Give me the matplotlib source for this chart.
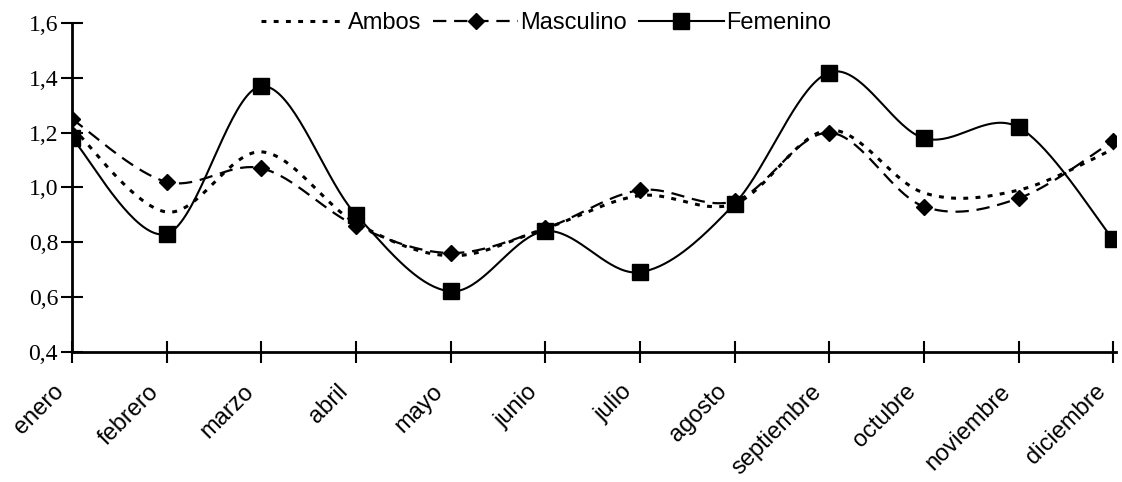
import numpy as np
import matplotlib
matplotlib.use("Agg")
import matplotlib.pyplot as plt
from matplotlib.ticker import FuncFormatter, MultipleLocator
from matplotlib.lines import Line2D
from matplotlib.transforms import ScaledTranslation

# datos mensuales
meses = ["enero", "febrero", "marzo", "abril", "mayo", "junio", "julio",
         "agosto", "septiembre", "octubre", "noviembre", "diciembre"]
ambos = [1.22, 0.91, 1.13, 0.87, 0.75, 0.85, 0.97, 0.94, 1.21, 0.98, 0.99, 1.14]
masculino = [1.25, 1.02, 1.07, 0.86, 0.76, 0.85, 0.99, 0.95, 1.20, 0.93, 0.96, 1.17]
femenino = [1.18, 0.83, 1.37, 0.90, 0.62, 0.84, 0.69, 0.94, 1.42, 1.18, 1.22, 0.81]


def suavizar(x, y, n=40):
    # curva tipo Catmull-Rom (como las "líneas suavizadas" de Excel)
    pts = np.column_stack([x, y]).astype(float)
    p = np.vstack([pts[0], pts, pts[-1]])
    t = np.linspace(0, 1, n)[:, None]
    tramos = []
    for i in range(1, len(p) - 2):
        p0, p1, p2, p3 = p[i - 1], p[i], p[i + 1], p[i + 2]
        c1 = p1 + (p2 - p0) / 6
        c2 = p2 - (p3 - p1) / 6
        seg = ((1 - t) ** 3 * p1 + 3 * (1 - t) ** 2 * t * c1
               + 3 * (1 - t) * t ** 2 * c2 + t ** 3 * p2)
        tramos.append(seg if i == 1 else seg[1:])
    s = np.vstack(tramos)
    return s[:, 0], s[:, 1]


x = np.arange(len(meses))

estilo_amb = dict(color="black", lw=2.2, dashes=(1.6, 2.4))
estilo_mas = dict(color="black", lw=1.6, dashes=(6, 3.5))
estilo_fem = dict(color="black", lw=1.5)

fig = plt.figure(figsize=(11.22, 4.82), dpi=100)
ax = fig.add_axes([72 / 1122, 1 - 351.5 / 482, (1116 - 72) / 1122, (351.5 - 23.3) / 482])

sx, sy = suavizar(x, ambos)
ax.plot(sx, sy, **estilo_amb)

sx, sy = suavizar(x, masculino)
ax.plot(sx, sy, **estilo_mas)
ax.plot(x, masculino, ls="none", marker="D", ms=8, color="black")

sx, sy = suavizar(x, femenino)
ax.plot(sx, sy, **estilo_fem)
ax.plot(x, femenino, ls="none", marker="s", ms=11, color="black")

# leyenda superior sin marco
h_amb = Line2D([], [], **estilo_amb)
h_mas = Line2D([], [], marker="D", ms=8, **estilo_mas)
h_fem = Line2D([], [], marker="s", ms=11, **estilo_fem)
fig.legend([h_amb, h_mas, h_fem], ["Ambos", "Masculino", "Femenino"],
           loc="center", bbox_to_anchor=(546 / 1122, 1 - 23 / 482), ncol=3,
           frameon=False, handlelength=3.6, handletextpad=0.1, columnspacing=0.5,
           prop={"family": "Liberation Sans", "size": 17})

ax.set_xlim(0, 11.03)
ax.set_ylim(0.4, 1.6)
ax.yaxis.set_major_locator(MultipleLocator(0.2))
ax.yaxis.set_major_formatter(FuncFormatter(lambda v, _: f"{v:.1f}".replace(".", ",")))

for s in ("top", "right"):
    ax.spines[s].set_visible(False)
for s in ("left", "bottom"):
    ax.spines[s].set_linewidth(2)

ax.tick_params(axis="both", direction="inout", width=1.5, length=16, color="black")
ax.tick_params(axis="y", labelsize=17, pad=2)
for lab in ax.get_yticklabels():
    lab.set_family("Liberation Serif")

ax.set_xticks(x)
ax.set_xticklabels(meses, rotation=45, ha="right", va="top",
                   rotation_mode="anchor", family="Liberation Sans", fontsize=17)
ax.tick_params(axis="x", pad=13)
# desplazar las etiquetas de los meses un poco a la izquierda
desplaza = ScaledTranslation(-19 / 100, 0, fig.dpi_scale_trans)
for lab in ax.get_xticklabels():
    lab.set_transform(lab.get_transform() + desplaza)

fig.savefig("out.png", dpi=100)
